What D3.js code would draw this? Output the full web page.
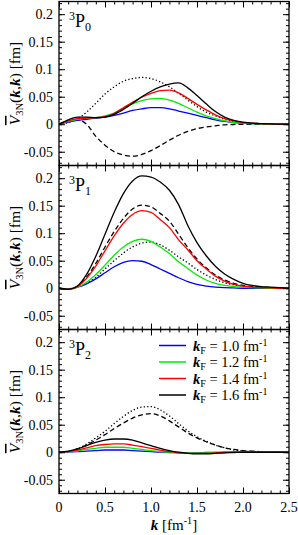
<!DOCTYPE html>
<html>
<head>
<meta charset="utf-8">
<script src="https://cdn.jsdelivr.net/npm/d3@7"></script>
<style>
  body { margin: 0; background: #fff; }
</style>
</head>
<body>
<div id="chart"></div>
<script>
// momentum grid (fm^-1)
const K = [0, 0.1, 0.2, 0.3, 0.4, 0.5, 0.6, 0.7, 0.8, 0.9, 1.0, 1.1, 1.2,
           1.3, 1.4, 1.5, 1.6, 1.7, 1.8, 1.9, 2.0, 2.1, 2.2, 2.3, 2.4, 2.5];

const kfLabels = ['1.0', '1.2', '1.4', '1.6'];
const kfColors = ['#0000ff', '#00ee00', '#ff0000', '#000000'];
const panelNames = ['0', '1', '2'];

// 3P0
const p0_kf10 = [0, 0.004, 0.007, 0.009, 0.011, 0.013, 0.016, 0.020, 0.025, 0.028, 0.030, 0.030, 0.028, 0.024, 0.020, 0.016, 0.012, 0.008, 0.005, 0.003, 0.0015, 0.001, 0.0005, 0.0002, 0.0001, 0];
const p0_kf12 = [0, 0.005, 0.009, 0.011, 0.012, 0.015, 0.020, 0.029, 0.037, 0.043, 0.046, 0.047, 0.044, 0.038, 0.030, 0.022, 0.015, 0.010, 0.006, 0.003, 0.002, 0.001, 0.0005, 0.0002, 0.0001, 0];
const p0_kf14 = [0, 0.006, 0.010, 0.011, 0.012, 0.014, 0.020, 0.030, 0.040, 0.049, 0.056, 0.061, 0.062, 0.057, 0.047, 0.036, 0.026, 0.017, 0.010, 0.006, 0.003, 0.002, 0.001, 0.0005, 0.0002, 0];
const p0_kf16 = [0, 0.008, 0.013, 0.013, 0.012, 0.013, 0.018, 0.027, 0.038, 0.050, 0.060, 0.068, 0.073, 0.075, 0.066, 0.052, 0.037, 0.023, 0.013, 0.007, 0.004, 0.002, 0.001, 0.0005, 0.0002, 0];
const p0_dot  = [0, 0.003, 0.010, 0.022, 0.038, 0.055, 0.068, 0.078, 0.083, 0.085, 0.083, 0.077, 0.068, 0.056, 0.044, 0.032, 0.022, 0.015, 0.009, 0.005, 0.003, 0.002, 0.001, 0.0005, 0.0002, 0];
const p0_dash = [0, 0.005, 0.008, 0.000, -0.022, -0.038, -0.050, -0.056, -0.058, -0.055, -0.048, -0.039, -0.029, -0.020, -0.013, -0.008, -0.005, -0.003, -0.001, -0.0005, 0, 0, 0, 0, 0, 0];

// 3P1
const p1_kf10 = [0, -0.001, 0.002, 0.008, 0.017, 0.028, 0.039, 0.047, 0.050, 0.049, 0.043, 0.035, 0.027, 0.019, 0.012, 0.007, 0.004, 0.002, 0.001, 0.0005, 0, 0, 0, 0, 0, 0];
const p1_kf12 = [0, -0.002, 0.002, 0.011, 0.025, 0.042, 0.060, 0.075, 0.085, 0.089, 0.085, 0.075, 0.063, 0.048, 0.036, 0.024, 0.015, 0.009, 0.005, 0.003, 0.002, 0.001, 0.0005, 0, 0, 0];
const p1_kf14 = [0, -0.002, 0.003, 0.018, 0.040, 0.068, 0.095, 0.118, 0.134, 0.141, 0.138, 0.125, 0.110, 0.088, 0.070, 0.050, 0.035, 0.022, 0.013, 0.007, 0.004, 0.002, 0.001, 0.0005, 0, 0];
const p1_kf16 = [0, -0.002, 0.004, 0.025, 0.058, 0.098, 0.138, 0.172, 0.195, 0.204, 0.202, 0.193, 0.178, 0.152, 0.114, 0.083, 0.059, 0.040, 0.026, 0.016, 0.009, 0.005, 0.003, 0.002, 0.001, 0];
const p1_dot  = [0, -0.002, 0.002, 0.009, 0.020, 0.035, 0.050, 0.064, 0.075, 0.082, 0.084, 0.079, 0.069, 0.057, 0.046, 0.034, 0.024, 0.016, 0.010, 0.006, 0.004, 0.002, 0.001, 0.0005, 0, 0];
const p1_dash = [0, -0.002, 0.003, 0.020, 0.045, 0.075, 0.103, 0.127, 0.144, 0.151, 0.148, 0.136, 0.122, 0.098, 0.074, 0.053, 0.037, 0.024, 0.015, 0.009, 0.005, 0.003, 0.002, 0.001, 0, 0];

// 3P2
const p2_kf10 = [0, 0.0005, 0.001, 0.002, 0.003, 0.004, 0.004, 0.004, 0.003, 0.002, 0.001, 0, -0.0005, -0.001, -0.001, -0.001, -0.0005, -0.0003, 0, 0, 0, 0, 0, 0, 0, 0];
const p2_kf12 = [0, 0.001, 0.002, 0.005, 0.007, 0.009, 0.009, 0.009, 0.007, 0.005, 0.003, 0.001, 0, -0.001, -0.001, -0.001, -0.001, -0.0005, 0, 0, 0, 0, 0, 0, 0, 0];
const p2_kf14 = [0, 0.001, 0.004, 0.008, 0.012, 0.014, 0.015, 0.015, 0.013, 0.010, 0.007, 0.004, 0.001, -0.001, -0.002, -0.002, -0.002, -0.001, -0.0005, 0, 0, 0, 0, 0, 0, 0];
const p2_kf16 = [0, 0.002, 0.006, 0.012, 0.018, 0.022, 0.024, 0.024, 0.022, 0.017, 0.012, 0.007, 0.003, 0.000, -0.002, -0.003, -0.003, -0.002, -0.001, -0.0005, 0, 0, 0, 0, 0, 0];
const p2_dot  = [0, 0.001, 0.006, 0.015, 0.026, 0.038, 0.052, 0.065, 0.076, 0.082, 0.083, 0.077, 0.066, 0.052, 0.039, 0.028, 0.020, 0.013, 0.008, 0.004, 0.002, 0.001, 0.0005, 0, 0, 0];
const p2_dash = [0, 0.001, 0.006, 0.013, 0.022, 0.032, 0.043, 0.053, 0.062, 0.068, 0.070, 0.066, 0.057, 0.046, 0.035, 0.026, 0.019, 0.013, 0.008, 0.005, 0.003, 0.002, 0.001, 0.0005, 0, 0];

const panels = [
    { kf: [p0_kf10, p0_kf12, p0_kf14, p0_kf16], dot: p0_dot, dash: p0_dash },
    { kf: [p1_kf10, p1_kf12, p1_kf14, p1_kf16], dot: p1_dot, dash: p1_dash },
    { kf: [p2_kf10, p2_kf12, p2_kf14, p2_kf16], dot: p2_dot, dash: p2_dash }
];

const yTicks = [-0.05, 0, 0.05, 0.1, 0.15, 0.2];
const xTicks = [0, 0.5, 1.0, 1.5, 2.0, 2.5];

const W = 298, H = 535;
const left = 59, right = 289, top0 = 1.5, panelH = 164;
const serif = '"Liberation Serif", "Times New Roman", "DejaVu Serif", serif';

const svg = d3.select("#chart").append("svg")
    .attr("width", W)
    .attr("height", H)
    .style("font-family", serif);

const xScale = d3.scaleLinear().domain([0, 2.5]).range([left, right]);

const line = (y) => d3.line()
    .x((d, i) => xScale(K[i]))
    .y(d => y(d))
    .curve(d3.curveMonotoneX);

panels.forEach((p, pi) => {
    const y0 = top0 + pi * panelH;
    const yScale = d3.scaleLinear().domain([-0.075, 0.223]).range([y0 + panelH, y0]);

    const g = svg.append("g");
    const clipId = "clip" + pi;
    g.append("clipPath").attr("id", clipId)
        .append("rect")
        .attr("x", left).attr("y", y0)
        .attr("width", right - left).attr("height", panelH);

    const plotG = g.append("g").attr("clip-path", "url(#" + clipId + ")");

    plotG.append("path")
        .datum(p.dot)
        .attr("d", line(yScale))
        .attr("fill", "none")
        .attr("stroke", "#000")
        .attr("stroke-width", 1.3)
        .attr("stroke-dasharray", "1.3,2.2");

    plotG.append("path")
        .datum(p.dash)
        .attr("d", line(yScale))
        .attr("fill", "none")
        .attr("stroke", "#000")
        .attr("stroke-width", 1.3)
        .attr("stroke-dasharray", "5,3");

    p.kf.forEach((s, si) => {
        plotG.append("path")
            .datum(s)
            .attr("d", line(yScale))
            .attr("fill", "none")
            .attr("stroke", kfColors[si])
            .attr("stroke-width", 1.3);
    });

    // axes with inward ticks
    const yMinor = d3.range(-0.07, 0.2201, 0.01).map(v => Math.round(v * 100) / 100);
    const xMinor = d3.range(0, 2.501, 0.1).map(v => Math.round(v * 10) / 10);

    g.append("g")
        .attr("transform", "translate(" + left + ",0)")
        .call(d3.axisRight(yScale).tickValues(yMinor).tickSize(3).tickFormat(""));
    g.append("g")
        .attr("transform", "translate(" + left + ",0)")
        .call(d3.axisRight(yScale).tickValues(yTicks).tickSize(6).tickFormat(""));
    g.append("g")
        .attr("transform", "translate(" + right + ",0)")
        .call(d3.axisLeft(yScale).tickValues(yMinor).tickSize(3).tickFormat(""));
    g.append("g")
        .attr("transform", "translate(" + right + ",0)")
        .call(d3.axisLeft(yScale).tickValues(yTicks).tickSize(6).tickFormat(""));

    g.append("g")
        .attr("transform", "translate(0," + (y0 + panelH) + ")")
        .call(d3.axisTop(xScale).tickValues(xMinor).tickSize(3).tickFormat(""));
    g.append("g")
        .attr("transform", "translate(0," + (y0 + panelH) + ")")
        .call(d3.axisTop(xScale).tickValues(xTicks).tickSize(6).tickFormat(""));
    g.append("g")
        .attr("transform", "translate(0," + y0 + ")")
        .call(d3.axisBottom(xScale).tickValues(xMinor).tickSize(3).tickFormat(""));
    g.append("g")
        .attr("transform", "translate(0," + y0 + ")")
        .call(d3.axisBottom(xScale).tickValues(xTicks).tickSize(6).tickFormat(""));

    g.selectAll(".domain").remove();
    g.selectAll(".tick line").attr("stroke", "#000").attr("stroke-width", 1);

    // frame
    g.append("rect")
        .attr("x", left).attr("y", y0)
        .attr("width", right - left).attr("height", panelH)
        .attr("fill", "none")
        .attr("stroke", "#000")
        .attr("stroke-width", 1.3);

    // y tick labels
    g.selectAll(".ylab")
        .data(yTicks)
        .enter().append("text")
        .attr("x", left - 6)
        .attr("y", d => yScale(d))
        .attr("dy", "0.35em")
        .attr("text-anchor", "end")
        .style("font-family", serif)
        .style("font-size", "14px")
        .text(d => d === 0 ? "0" : String(d));

    // y axis title
    const yt = g.append("text")
        .attr("transform", "translate(20," + (y0 + panelH / 2) + ") rotate(-90)")
        .attr("text-anchor", "middle")
        .style("font-family", serif)
        .style("font-size", "15.5px");
    yt.append("tspan").style("font-style", "italic").style("text-decoration", "overline").text("V");
    yt.append("tspan").attr("dy", 3).style("font-size", "10.5px").text("3N");
    yt.append("tspan").attr("dy", -3).text("(");
    yt.append("tspan").style("font-style", "italic").style("font-weight", "bold").text("k");
    yt.append("tspan").text(",");
    yt.append("tspan").style("font-style", "italic").style("font-weight", "bold").text("k");
    yt.append("tspan").text(")\u00a0[fm]");

    // panel label
    const pl = g.append("text")
        .attr("x", 69)
        .attr("y", y0 + 25)
        .style("font-family", serif)
        .style("font-size", "18px");
    pl.append("tspan").attr("dy", -7).style("font-size", "12px").text("3");
    pl.append("tspan").attr("dy", 7).text("P");
    pl.append("tspan").attr("dy", 4).style("font-size", "12px").text(panelNames[pi]);
});

// x tick labels (bottom panel)
const yBottom = top0 + 3 * panelH;
svg.selectAll(".xlab")
    .data(xTicks)
    .enter().append("text")
    .attr("x", d => xScale(d))
    .attr("y", yBottom + 18)
    .attr("text-anchor", "middle")
    .style("font-family", serif)
    .style("font-size", "14px")
    .text(d => d === 0 ? "0" : d.toFixed(1));

// x axis title
const xt = svg.append("text")
    .attr("x", (left + right) / 2)
    .attr("y", yBottom + 36)
    .attr("text-anchor", "middle")
    .style("font-family", serif)
    .style("font-size", "15px");
xt.append("tspan").style("font-style", "italic").style("font-weight", "bold").text("k");
xt.append("tspan").text("\u00a0[fm");
xt.append("tspan").attr("dy", -6).style("font-size", "10px").text("-1");
xt.append("tspan").attr("dy", 6).text("]");

// legend in bottom panel
const legY = top0 + 2 * panelH;
const legend = svg.selectAll(".legend")
    .data(kfLabels)
    .enter().append("g")
    .attr("class", "legend")
    .attr("transform", (d, i) => "translate(0," + (legY + 16 + i * 16.5) + ")");
legend.append("line")
    .attr("x1", 159).attr("x2", 186)
    .attr("y1", 0).attr("y2", 0)
    .attr("stroke", (d, i) => kfColors[i])
    .attr("stroke-width", 1.5);
const lt = legend.append("text")
    .attr("x", 193)
    .attr("y", 0)
    .attr("dy", "0.35em")
    .style("font-family", serif)
    .style("font-size", "14.5px");
lt.append("tspan").style("font-style", "italic").style("font-weight", "bold").text("k");
lt.append("tspan").attr("dy", 3).style("font-size", "10px").text("F");
lt.append("tspan").attr("dy", -3).text(d => " = " + d + " fm");
lt.append("tspan").attr("dy", -5).style("font-size", "10px").text("-1");
</script>
</body>
</html>
